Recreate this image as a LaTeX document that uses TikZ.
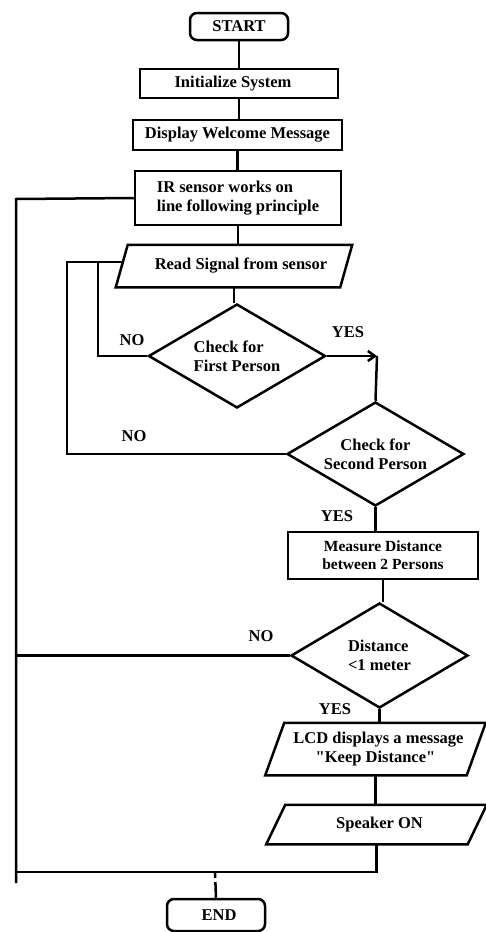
\documentclass[tikz,border=0pt]{standalone}
\usepackage{fontspec}
\setmainfont{Liberation Serif}[Ligatures=TeXOff]
\usetikzlibrary{shapes.geometric,arrows.meta,calc}
\begin{document}
\begin{tikzpicture}[x=1pt,y=-1pt,line width=2.5pt,
  txt/.style={font=\fontsize{16.5}{19}\selectfont\bfseries},
  term/.style={txt,draw,rounded corners=7pt,minimum width=98pt,inner sep=0pt},
  proc/.style={txt,draw,inner sep=0pt,align=center},
  para/.style={txt,inner sep=0pt,align=center},
  dec/.style={txt,draw,diamond,aspect=1.7,inner sep=0pt,minimum width=177pt,minimum height=104pt},
  lbl/.style={txt,inner sep=0pt}]
\useasboundingbox (0,0) rectangle (486,932);

% nodes
\node[term,minimum height=27pt] (start) at (239,26.5) {START};
\node[proc,minimum width=198pt,minimum height=29pt] (init) at (239,83.5) {Initialize System\hspace*{12pt}};
\node[proc,minimum width=209pt,minimum height=30pt] (disp) at (237.5,135) {Display Welcome Message};
\node[proc,minimum width=206pt,minimum height=54pt,align=left] (ir) at (238,198) {IR sensor works on\\line following principle};
\node[para,minimum width=222pt,minimum height=40pt] (read) at (234,266) {\hspace*{14pt}Read Signal from sensor};
\node[dec,align=left] (d1) at (237,356) {Check for\\First Person};
\node[dec,align=center] (d2) at (375.5,454) {Check for\\Second Person};
\node[proc,minimum width=190pt,minimum height=47pt,font=\fontsize{15.5}{18}\selectfont\bfseries] (meas) at (383,555.5) {Measure Distance\\between 2 Persons};
\node[dec,align=left,minimum height=105pt] (d3) at (379.5,655.5) {Distance\\<1 meter};
\node[para,minimum width=199pt,minimum height=50pt] (lcd) at (375.5,749) {\hspace*{6pt}LCD displays a message\\"Keep Distance"};
\node[para,minimum width=199pt,minimum height=37pt] (spk) at (376.5,824.5) {\hspace*{6pt}Speaker ON};
\node[term,minimum height=32pt] (end) at (216,915) {\hspace*{6pt}END};

% parallelogram outlines
\draw ([xshift=6pt]read.north west) -- ([xshift=6pt]read.north east) -- ([xshift=-6pt]read.south east) -- ([xshift=-6pt]read.south west) -- cycle;
\draw ([xshift=9.5pt]lcd.north west) -- ([xshift=9.5pt]lcd.north east) -- ([xshift=-9.5pt]lcd.south east) -- ([xshift=-9.5pt]lcd.south west) -- cycle;
\draw ([xshift=9.5pt]spk.north west) -- ([xshift=9.5pt]spk.north east) -- ([xshift=-9.5pt]spk.south east) -- ([xshift=-9.5pt]spk.south west) -- cycle;

% labels
\node[lbl] (no1) at (132,340) {NO};
\node[lbl] (yes1) at (348,332) {YES};
\node[lbl] (no2) at (134,436) {NO};
\node[lbl] (yes2) at (337,516) {YES};
\node[lbl] (no3) at (261,636) {NO};
\node[lbl] (yes3) at (335,709) {YES};

% coordinates
\coordinate (ya) at (377,356);
\coordinate (rl) at (67,262);
\coordinate (rm) at (98,262);
\coordinate (ltop) at (16,199);
\coordinate (lbot) at (16,883);
\coordinate (bl) at (15,872);
\coordinate (jn) at (215,872);

% main flow
\draw (start.south) -- (start.south |- init.north);
\draw (init.south) -- (init.south |- disp.north);
\draw (disp.south) -- (disp.south |- ir.north);
\draw (ir.south) -- (ir.south |- read.north);
\draw (read.south) -- (read.south |- d1.north);
\draw[-{Straight Barb[length=7pt,width=10pt]}] (d1.east) -- (ya);
\draw (ya) -- (d2.north);
\draw (d2.south) -- (d2.south |- meas.north);
\draw (meas.south) -- (meas.south |- d3.north);
\draw (d3.south) -- (d3.south |- lcd.north);
\draw (lcd.south) -- (lcd.south |- spk.north);

% loops
\draw (ir.west) -- (ltop) -- (lbot);
\draw (d3.west) -- (d3.west -| ltop);
\draw (d2.west) -| (rl) -- ([yshift=4pt]read.west);
\draw (d1.west) -| (rm);
\draw (bl) -| (spk.south);
\draw[dash pattern=on 6pt off 4pt on 30pt] (jn) -- (end.north);
\end{tikzpicture}
\end{document}
